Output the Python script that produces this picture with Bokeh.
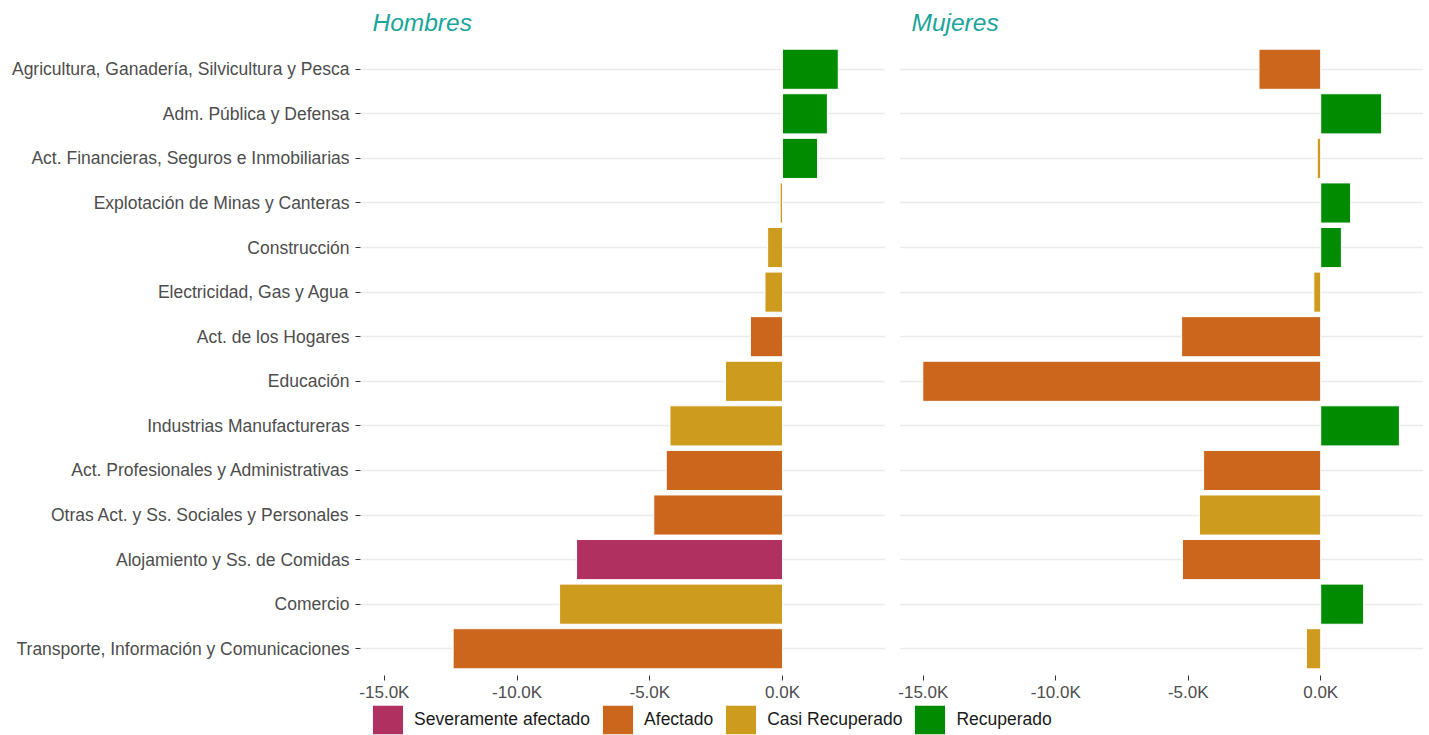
from bokeh.plotting import figure
from bokeh.layouts import row, column
from bokeh.models import (ColumnDataSource, FactorRange, Range1d, FixedTicker,
                          CustomJSTickFormatter)
from bokeh.embed import file_html
from bokeh.resources import INLINE

categories = [
    "Agricultura, Ganadería, Silvicultura y Pesca",
    "Adm. Pública y Defensa",
    "Act. Financieras, Seguros e Inmobiliarias",
    "Explotación de Minas y Canteras",
    "Construcción",
    "Electricidad, Gas y Agua",
    "Act. de los Hogares",
    "Educación",
    "Industrias Manufactureras",
    "Act. Profesionales y Administrativas",
    "Otras Act. y Ss. Sociales y Personales",
    "Alojamiento y Ss. de Comidas",
    "Comercio",
    "Transporte, Información y Comunicaciones",
]

hombres_values = [2100, 1690, 1320, -90, -560, -660, -1210, -2150,
                  -4240, -4380, -4850, -7760, -8400, -12410]
hombres_status = ["Recuperado", "Recuperado", "Recuperado", "Casi Recuperado",
                  "Casi Recuperado", "Casi Recuperado", "Afectado", "Casi Recuperado",
                  "Casi Recuperado", "Afectado", "Afectado", "Severamente afectado",
                  "Casi Recuperado", "Afectado"]

mujeres_values = [-2330, 2300, -130, 1130, 780, -260, -5250, -15020,
                  2970, -4420, -4580, -5220, 1620, -540]
mujeres_status = ["Afectado", "Recuperado", "Casi Recuperado", "Recuperado",
                  "Recuperado", "Casi Recuperado", "Afectado", "Afectado",
                  "Recuperado", "Afectado", "Casi Recuperado", "Afectado",
                  "Recuperado", "Casi Recuperado"]

status_levels = ["Severamente afectado", "Afectado", "Casi Recuperado", "Recuperado"]
status_colors = ["#B03060", "#CD661D", "#CD9B1D", "#008B00"]
color_map = dict(zip(status_levels, status_colors))

x_ticks = [-15000, -10000, -5000, 0]
panel_titles = ["Hombres", "Mujeres"]

FONT = "Liberation Sans"
TEXT_COL = "#4D4D4D"
TITLE_COL = "#19A59C"


def make_panel(title, values, status, show_y):
    src = ColumnDataSource(dict(cat=categories, val=values,
                                col=[color_map[s] for s in status]))
    yr = FactorRange(factors=list(reversed(categories)), range_padding=0.1,
                     range_padding_units="absolute")
    p = figure(y_range=yr, x_range=Range1d(-15900, 3880),
               width=885 if show_y else 538, height=704,
               min_border_left=360 if show_y else 14,
               min_border_right=0,
               min_border_top=42, min_border_bottom=28,
               toolbar_location=None, output_backend="svg")
    p.hbar(y="cat", right="val", left=0, height=0.9, fill_color="col",
           line_color="white", line_width=1, source=src)
    p.outline_line_color = None
    p.background_fill_color = "white"
    p.border_fill_color = "white"
    p.xgrid.visible = False
    p.ygrid.grid_line_color = "#EBEBEB"
    p.ygrid.grid_line_width = 1.5
    p.ygrid.level = "underlay"

    p.xaxis.ticker = FixedTicker(ticks=x_ticks)
    p.xaxis.formatter = CustomJSTickFormatter(code="return (tick/1000).toFixed(1) + 'K';")
    p.xaxis.axis_line_color = None
    p.xaxis.major_tick_line_color = "#333333"
    p.xaxis.major_tick_out = 5
    p.xaxis.major_tick_in = 0
    p.xaxis.minor_tick_line_color = None
    p.xaxis.major_label_standoff = 2
    p.xaxis.major_label_text_font = FONT
    p.xaxis.major_label_text_font_size = "17px"
    p.xaxis.major_label_text_color = TEXT_COL

    if show_y:
        p.yaxis.axis_line_color = None
        p.yaxis.major_tick_line_color = "#333333"
        p.yaxis.major_tick_out = 5
        p.yaxis.major_tick_in = 0
        p.yaxis.major_label_standoff = 6
        p.yaxis.major_label_text_font = FONT
        p.yaxis.major_label_text_font_size = "17.5px"
        p.yaxis.major_label_text_color = TEXT_COL
    else:
        p.yaxis.visible = False

    p.title.text = title
    p.title.text_font = FONT
    p.title.text_font_style = "italic"
    p.title.text_font_size = "24.5px"
    p.title.text_color = TITLE_COL
    p.title.align = "left"
    p.title.offset = 12
    p.title.standoff = 13
    return p


p1 = make_panel(panel_titles[0], hombres_values, hombres_status, True)
p2 = make_panel(panel_titles[1], mujeres_values, mujeres_status, False)

# legend strip
p3 = figure(width=1423, height=31, x_range=Range1d(0, 1), y_range=Range1d(0, 1),
            toolbar_location=None, output_backend="svg",
            min_border=0, outline_line_color=None)
p3.axis.visible = False
p3.grid.visible = False
leg_src = ColumnDataSource(dict(status=status_levels, col=status_colors))
p3.quad(left=0, right=0, top=0, bottom=0, fill_color="col",
        line_color="white", line_width=1, source=leg_src,
        legend_field="status")
legend = p3.legend[0]
legend.orientation = "horizontal"
legend.location = (368, -3)
legend.glyph_width = 39
legend.glyph_height = 37
legend.label_text_font = FONT
legend.label_text_font_size = "17.5px"
legend.label_text_color = "#1A1A1A"
legend.spacing = 8
legend.label_standoff = 7
legend.padding = 0
legend.margin = 0
legend.border_line_color = None
legend.background_fill_alpha = 0

layout = column(row(p1, p2), p3, spacing=0)
open("out.html", "w").write(file_html(layout, INLINE))
